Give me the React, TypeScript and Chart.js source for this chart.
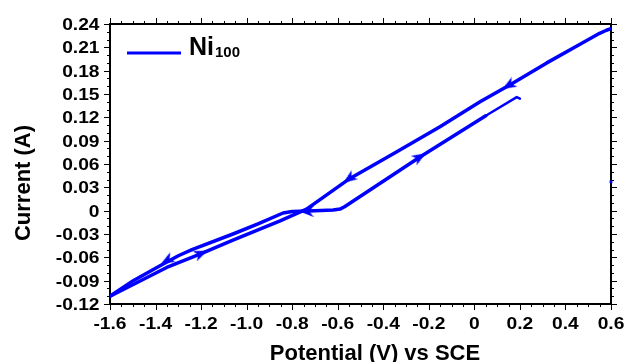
import React, { useEffect, useRef } from 'react';
import { Chart, registerables } from 'chart.js';

Chart.register(...registerables);

// Cathodic sweep (0.6 V -> -1.6 V)
const cathodicV = [0.6, 0.58, 0.55, 0.464, 0.318, 0.157, 0.025, -0.151, -0.35, -0.554, -0.65, -0.737, -0.853, -1.06, -1.205, -1.351, -1.498, -1.6];
const cathodicI = [0.234, 0.232, 0.228, 0.214, 0.19, 0.162, 0.14, 0.108, 0.074, 0.04, 0.02, 0.002, -0.013, -0.038, -0.056, -0.073, -0.095, -0.11];

// Anodic sweep (-1.6 V -> 0.05 V)
const anodicV = [-1.6, -1.498, -1.4, -1.3, -1.24, -1.06, -0.95, -0.84, -0.8, -0.7, -0.62, -0.59, -0.57, -0.239, 0.05];
const anodicI = [-0.11, -0.09, -0.074, -0.058, -0.05, -0.03, -0.017, -0.003, -0.001, 0.0, 0.001, 0.002, 0.005, 0.069, 0.122];

// Final (thin) part of the sweep
const endV = [0.05, 0.186, 0.2];
const endI = [0.122, 0.146, 0.144];

// Direction arrows
const arrowV = [0.15, -0.55, -1.35, -0.24, -1.2, -0.737];
const arrowI = [0.161, 0.041, -0.064, 0.069, -0.055, -0.001];
const arrowAngle = [239, 234, 240, 59, 67, 270];

// Stray point at right edge
const strayV = [0.6];
const strayI = [0.037];

const xTickLabels = ['-1.6', '-1.4', '-1.2', '-1.0', '-0.8', '-0.6', '-0.4', '-0.2', '0', '0.2', '0.4', '0.6'];
const yTickLabels = ['-0.12', '-0.09', '-0.06', '-0.03', '0', '0.03', '0.06', '0.09', '0.12', '0.15', '0.18', '0.21', '0.24'];

const X_MIN = -1.6;
const X_MAX = 0.6;
const Y_MIN = -0.12;
const Y_MAX = 0.24;

const seriesName = 'Ni';
const seriesSub = '100';
const xTitle = 'Potential (V) vs SCE';
const yTitle = 'Current (A)';

const BLUE = '#0000ff';
const FONT = '"Liberation Sans", Arial, sans-serif';

const toPts = (xs: number[], ys: number[]) => xs.map((x, i) => ({ x, y: ys[i] }));

function makeArrowHead(): HTMLCanvasElement {
  const c = document.createElement('canvas');
  c.width = 11;
  c.height = 14;
  const g = c.getContext('2d')!;
  g.fillStyle = BLUE;
  g.beginPath();
  g.moveTo(5.5, 0);
  g.lineTo(11, 14);
  g.lineTo(5.5, 10);
  g.lineTo(0, 14);
  g.closePath();
  g.fill();
  return c;
}

export default function App() {
  const ref = useRef<HTMLCanvasElement>(null);

  useEffect(() => {
    if (!ref.current) return;

    const framePlugin = {
      id: 'framePlugin',
      beforeDatasetsDraw(chart: any) {
        const { ctx, chartArea: a, scales } = chart;
        const x = scales.x;
        const y = scales.y;
        ctx.save();
        ctx.strokeStyle = '#000';
        ctx.lineWidth = 1;
        const nx = Math.round((X_MAX - X_MIN) / 0.05);
        for (let i = 0; i <= nx; i++) {
          const px = Math.round(x.getPixelForValue(X_MIN + i * 0.05)) + 0.5;
          const len = i % 4 === 0 ? 6 : 3;
          ctx.beginPath();
          ctx.moveTo(px, a.bottom);
          ctx.lineTo(px, a.bottom + len);
          ctx.moveTo(px, a.top);
          ctx.lineTo(px, a.top - len);
          ctx.stroke();
        }
        const ny = Math.round((Y_MAX - Y_MIN) / 0.01);
        for (let i = 0; i <= ny; i++) {
          const py = Math.round(y.getPixelForValue(Y_MIN + i * 0.01)) + 0.5;
          const len = i % 3 === 0 ? 6 : 3;
          ctx.beginPath();
          ctx.moveTo(a.left, py);
          ctx.lineTo(a.left - len, py);
          ctx.moveTo(a.right, py);
          ctx.lineTo(a.right + len, py);
          ctx.stroke();
        }
        ctx.lineWidth = 2;
        ctx.strokeRect(a.left, a.top, a.right - a.left, a.bottom - a.top);
        ctx.restore();
      },
      afterDraw(chart: any) {
        const { ctx, chartArea: a, scales } = chart;
        const x = scales.x;
        const y = scales.y;
        ctx.save();
        const stretched = (t: string, px: number, py: number, align: CanvasTextAlign, sx: number) => {
          ctx.save();
          ctx.translate(px, py);
          ctx.scale(sx, 1);
          ctx.textAlign = align;
          ctx.textBaseline = 'alphabetic';
          ctx.fillText(t, 0, 0);
          ctx.restore();
        };

        ctx.fillStyle = '#000';
        ctx.font = `bold 16px ${FONT}`;
        xTickLabels.forEach((l) => {
          const px = x.getPixelForValue(parseFloat(l));
          stretched(l, px, a.bottom + 25, 'center', 1.2);
        });
        yTickLabels.forEach((l) => {
          const py = y.getPixelForValue(parseFloat(l));
          stretched(l, a.left - 10.5, py + 6, 'right', 1.2);
        });

        ctx.font = `bold 22px ${FONT}`;
        stretched(xTitle, 375, 360, 'center', 1.0);
        ctx.save();
        ctx.translate(30, 183);
        ctx.rotate(-Math.PI / 2);
        ctx.textAlign = 'center';
        ctx.fillText(yTitle, 0, 0);
        ctx.restore();

        ctx.strokeStyle = BLUE;
        ctx.lineWidth = 3;
        ctx.beginPath();
        ctx.moveTo(127, 53);
        ctx.lineTo(181, 53);
        ctx.stroke();
        ctx.fillStyle = '#000';
        ctx.textAlign = 'left';
        ctx.font = `bold 25px ${FONT}`;
        ctx.fillText(seriesName, 189, 55);
        const w = ctx.measureText(seriesName).width;
        ctx.font = `bold 15px ${FONT}`;
        ctx.fillText(seriesSub, 189 + w + 1, 57);
        ctx.restore();
      },
    };

    const lineDs = (pts: any[], width: number, color: string) => ({
      data: pts,
      showLine: true,
      borderColor: color,
      backgroundColor: color,
      borderWidth: width,
      pointRadius: 0,
      tension: 0,
      borderJoinStyle: 'round' as const,
      borderCapStyle: 'round' as const,
    });

    const arrowHead = makeArrowHead();

    const chart = new Chart(ref.current, {
      type: 'scatter',
      data: {
        datasets: [
          lineDs(toPts(cathodicV, cathodicI), 3.5, BLUE),
          lineDs(toPts(anodicV, anodicI), 3.5, BLUE),
          lineDs(toPts(endV, endI), 2.5, BLUE),
          lineDs(toPts(endV.slice(0, 2), endI.slice(0, 2)), 1, '#8a8ab0'),
          {
            data: toPts(arrowV, arrowI),
            showLine: false,
            pointStyle: arrowHead,
            pointRadius: 7,
            pointRotation: arrowAngle,
            backgroundColor: BLUE,
            borderColor: BLUE,
          },
          {
            data: toPts(strayV, strayI),
            showLine: false,
            pointStyle: 'rect',
            pointRadius: 2,
            backgroundColor: BLUE,
            borderColor: BLUE,
            borderWidth: 0,
            clip: false,
          },
        ] as any,
      },
      options: {
        animation: false,
        responsive: false,
        devicePixelRatio: 1,
        layout: { padding: { left: 110, top: 24, right: 15, bottom: 58 } },
        plugins: { legend: { display: false }, tooltip: { enabled: false } },
        scales: {
          x: { type: 'linear', min: X_MIN, max: X_MAX, display: false },
          y: { type: 'linear', min: Y_MIN, max: Y_MAX, display: false },
        },
      },
      plugins: [framePlugin],
    });
    return () => chart.destroy();
  }, []);

  return (
    <div style={{ position: 'absolute', left: 0, top: 0, width: 626, height: 362, background: '#fff' }}>
      <canvas ref={ref} width={626} height={362} style={{ display: 'block' }} />
    </div>
  );
}
